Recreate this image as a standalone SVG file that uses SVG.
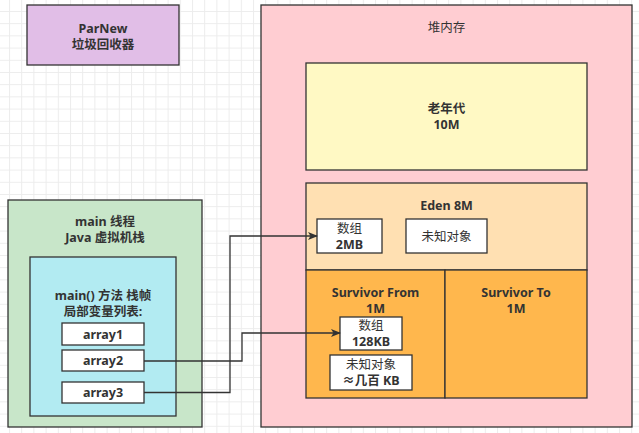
<svg xmlns="http://www.w3.org/2000/svg" width="639" height="433" viewBox="0 0 639 433">
<defs>
<pattern id="grid" x="9" y="11" width="12.2" height="12.2" patternUnits="userSpaceOnUse">
<path d="M0,0.5 H12.2 M0.5,0 V12.2" fill="none" stroke="#ececec" stroke-width="1"/>
</pattern>
<marker id="arr" markerWidth="10" markerHeight="8" refX="9" refY="4" orient="auto" markerUnits="userSpaceOnUse">
<path d="M0,0 L10,4 L0,8 L2.5,4 Z" fill="#333"/>
</marker>
</defs>
<style>
.box{stroke:#333;stroke-width:1.3}
text{font-family:"Noto Sans","Noto Sans CJK SC",sans-serif;font-size:12.5px;fill:#333;text-anchor:middle;font-weight:bold}
.n{font-weight:normal}
.edge{fill:none;stroke:#333;stroke-width:1.3}
</style>
<rect width="639" height="433" fill="#fff"/>
<rect width="639" height="433" fill="url(#grid)"/>

<g id="parnew">
<rect class="box" x="27" y="5" width="152" height="60" fill="#e1bee7"/>
<text x="103" y="33">ParNew</text>
<text x="103" y="48.5">垃圾回收器</text>
</g>

<g id="main-thread">
<rect class="box" x="8" y="200" width="194" height="227" fill="#c8e6c9"/>
<text x="105" y="226">main 线程</text>
<text x="105" y="242">Java 虚拟机栈</text>
</g>

<g id="stack-frame">
<rect class="box" x="30" y="257" width="146" height="159" fill="#b2ebf2"/>
<text x="103" y="300">main() 方法 栈帧</text>
<text x="103" y="315.5">局部变量列表:</text>
</g>

<g id="array1">
<rect class="box" x="62" y="323" width="82" height="22" fill="#fff"/>
<text x="103" y="338.5">array1</text>
</g>
<g id="array2">
<rect class="box" x="62" y="350" width="82" height="21" fill="#fff"/>
<text x="103" y="365">array2</text>
</g>
<g id="array3">
<rect class="box" x="62" y="382" width="82" height="21" fill="#fff"/>
<text x="103" y="397">array3</text>
</g>

<g id="heap">
<rect class="box" x="261" y="5" width="371" height="422" fill="#ffcdd2"/>
<text class="n" x="446.5" y="31.5">堆内存</text>
</g>

<g id="old-gen">
<rect class="box" x="306" y="63" width="281" height="107" fill="#fff9c4"/>
<text x="446.5" y="113">老年代</text>
<text x="446.5" y="129">10M</text>
</g>

<g id="eden">
<rect class="box" x="306" y="183" width="281" height="87" fill="#ffe0b2"/>
<text x="446.5" y="209.5">Eden 8M</text>
</g>

<g id="eden-array">
<rect class="box" x="317" y="219" width="65" height="34" fill="#fff"/>
<text class="n" x="349.5" y="233">数组</text>
<text x="349.5" y="248.5">2MB</text>
</g>

<g id="eden-unknown">
<rect class="box" x="406" y="219" width="81" height="34" fill="#fff"/>
<text class="n" x="446.5" y="240.5">未知对象</text>
</g>

<g id="survivor-from">
<rect class="box" x="306" y="270" width="139" height="128" fill="#ffb74d"/>
<text x="375.5" y="297">Survivor From</text>
<text x="375.5" y="312.5">1M</text>
</g>

<g id="survivor-to">
<rect class="box" x="445" y="270" width="142" height="128" fill="#ffb74d"/>
<text x="516" y="297">Survivor To</text>
<text x="516" y="312.5">1M</text>
</g>

<g id="from-array">
<rect class="box" x="340" y="317" width="62" height="33" fill="#fff"/>
<text class="n" x="371" y="330">数组</text>
<text x="371" y="346">128KB</text>
</g>

<g id="from-unknown">
<rect class="box" x="330" y="355" width="82" height="35" fill="#fff"/>
<text class="n" x="371" y="368.5">未知对象</text>
<text x="371" y="384.5">≈几百 KB</text>
</g>

<g id="connectors">
<path class="edge" d="M144,392.5 H230 V236 H317" marker-end="url(#arr)"/>
<path class="edge" d="M144,361 H242 V333 H340" marker-end="url(#arr)"/>
</g>
</svg>
